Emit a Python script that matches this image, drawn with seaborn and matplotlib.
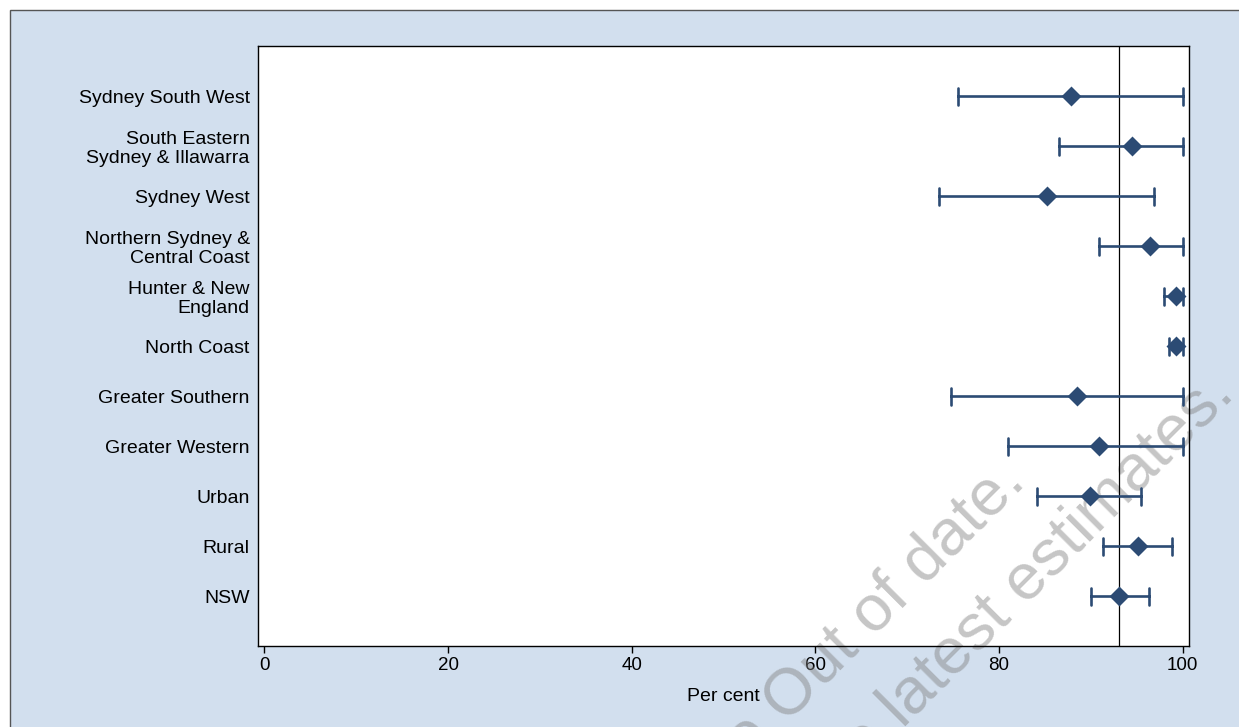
import numpy as np
import pandas as pd
import seaborn as sns
import matplotlib.pyplot as plt
from matplotlib.patches import Rectangle

# Region labels, point estimates and confidence limits (per cent)
regions = ['Sydney South West', 'South Eastern\nSydney & Illawarra', 'Sydney West',
           'Northern Sydney &\nCentral Coast', 'Hunter & New\nEngland', 'North Coast',
           'Greater Southern', 'Greater Western', 'Urban', 'Rural', 'NSW']
estimate = [87.8, 94.5, 85.2, 96.5, 99.3, 99.3, 88.5, 90.9, 89.9, 95.1, 93.1]
lower = [75.6, 86.6, 73.5, 90.9, 98.0, 98.5, 74.8, 81.0, 84.2, 91.3, 90.0]
upper = [100.0, 100.0, 96.9, 100.0, 100.0, 100.0, 100.0, 100.0, 95.5, 98.9, 96.3]
xticks = [0, 20, 40, 60, 80, 100]

# long table: median of (lower, estimate, upper) is the estimate,
# the 100% percentile interval is (lower, upper)
df = pd.DataFrame({
    'region': np.repeat(regions, 3),
    'value': np.column_stack([lower, estimate, upper]).ravel(),
})

sns.set_theme(style='white')
plt.rcParams['font.family'] = ['Liberation Sans', 'DejaVu Sans']
plt.rcParams['text.color'] = 'black'
plt.rcParams['axes.labelcolor'] = 'black'
plt.rcParams['xtick.color'] = 'black'
plt.rcParams['ytick.color'] = 'black'

navy = '#2c4b74'
fig = plt.figure(figsize=(12.39, 7.27), dpi=100)
fig.patch.set_facecolor('white')
fig.add_artist(Rectangle((10 / 1239, -0.1), 1.1, 1.1 - 10 / 727, transform=fig.transFigure,
                         facecolor='#d2dfee', edgecolor='#555555', linewidth=1, zorder=-5))

ax = fig.add_axes([0.2082, 0.1114, 0.7514, 0.8253])
ax.set_facecolor('white')

sns.pointplot(data=df, x='value', y='region', order=regions, estimator='median',
              errorbar=('pi', 100), color=navy, markers='D', markersize=8,
              linestyle='none', capsize=0.34, err_kws={'linewidth': 1.9}, ax=ax)

ax.axvline(estimate[-1], color='black', linewidth=0.9, zorder=1.5)

ax.set_xlim(-0.7, 100.7)
ax.set_ylim(len(regions), -1)
ax.set_xticks(xticks)
ax.set_xlabel('Per cent', fontsize=14, labelpad=10)
ax.set_ylabel('')
ax.tick_params(axis='x', labelsize=13.5, length=5, width=1, color='black', direction='out', bottom=True, pad=3)
ax.tick_params(axis='y', labelsize=14, length=0, pad=6)
for lab in ax.get_yticklabels():
    lab.set_linespacing(1.15)
for s in ax.spines.values():
    s.set_color('black')
    s.set_linewidth(1)

# watermark
wm = dict(fontsize=47, color='#808080', alpha=0.45, rotation=45,
          rotation_mode='anchor', ha='right', va='baseline', transform=fig.transFigure,
          clip_on=False, zorder=1)
ax.text(1027 / 1239, 1 - 483 / 727, 'These are Out of date.', **wm)
ax.text(1236 / 1239, 1 - 395 / 727, 'Please see the latest estimates.', **wm)

fig.savefig('out.png', dpi=100)
